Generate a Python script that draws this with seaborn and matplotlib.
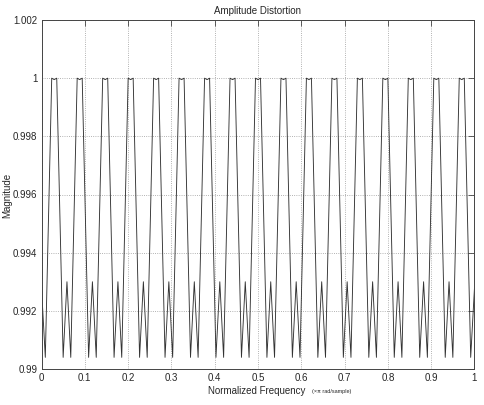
import numpy as np
import pandas as pd
import matplotlib
matplotlib.use("Agg")
import matplotlib.pyplot as plt
import seaborn as sns

# ---- datos (vertices de la curva) ----
# pequenos picos (~0.993) en k/17
small_peak_x = [0.0000, 0.0588, 0.1176, 0.1765, 0.2353, 0.2941, 0.3529, 0.4118, 0.4706,
                0.5294, 0.5882, 0.6471, 0.7059, 0.7647, 0.8235, 0.8824, 0.9412, 1.0000]
small_peak_y = [0.9928, 0.9930, 0.9930, 0.9930, 0.9930, 0.9930, 0.9930, 0.9930, 0.9930,
                0.9930, 0.9930, 0.9930, 0.9930, 0.9930, 0.9930, 0.9930, 0.9930, 0.9928]

# minimos (~0.9904)
dip_x = [0.0088, 0.0500, 0.0676, 0.1088, 0.1264, 0.1676, 0.1853, 0.2265, 0.2441, 0.2853,
         0.3029, 0.3441, 0.3617, 0.4029, 0.4206, 0.4618, 0.4794, 0.5206, 0.5382, 0.5794,
         0.5970, 0.6382, 0.6559, 0.6971, 0.7147, 0.7559, 0.7735, 0.8147, 0.8323, 0.8735,
         0.8912, 0.9324, 0.9500, 0.9912]
dip_y = [0.9904] * len(dip_x)

# esquinas de la parte plana superior (=1)
top_left_x = [0.0236, 0.0824, 0.1413, 0.2001, 0.2589, 0.3177, 0.3766, 0.4354, 0.4942,
              0.5530, 0.6118, 0.6707, 0.7295, 0.7883, 0.8471, 0.9060, 0.9648]
top_right_x = [0.0352, 0.0940, 0.1529, 0.2117, 0.2705, 0.3293, 0.3882, 0.4470, 0.5058,
               0.5646, 0.6234, 0.6823, 0.7411, 0.7999, 0.8587, 0.9176, 0.9764]
top_y = [1.0] * len(top_left_x)

# pequena muesca en el centro de cada pico
notch_x = [0.0294, 0.0882, 0.1471, 0.2059, 0.2647, 0.3235, 0.3824, 0.4412, 0.5000,
           0.5588, 0.6176, 0.6765, 0.7353, 0.7941, 0.8529, 0.9118, 0.9706]
notch_y = [0.99995] * len(notch_x)

xtick_vals = [0, 0.1, 0.2, 0.3, 0.4, 0.5, 0.6, 0.7, 0.8, 0.9, 1]
xtick_labels = ["0", "0.1", "0.2", "0.3", "0.4", "0.5", "0.6", "0.7", "0.8", "0.9", "1"]
ytick_vals = [0.990, 0.992, 0.994, 0.996, 0.998, 1.000, 1.002]
ytick_labels = ["0.99", "0.992", "0.994", "0.996", "0.998", "1", "1.002"]

df = pd.DataFrame({
    "x": small_peak_x + dip_x + top_left_x + top_right_x + notch_x,
    "y": small_peak_y + dip_y + top_y + top_y + notch_y,
}).sort_values("x")

# ---- estilo ----
sns.set_style("white")
plt.rcParams["font.family"] = ["Liberation Sans", "DejaVu Sans"]
plt.rcParams["xtick.direction"] = "in"
plt.rcParams["ytick.direction"] = "in"

fig = plt.figure(figsize=(4.84, 4.05), dpi=100)
ax = fig.add_axes([41.5 / 484, 36 / 405, 433 / 484, 349 / 405])

sns.lineplot(data=df, x="x", y="y", sort=False, estimator=None,
             color="#333333", linewidth=0.65, ax=ax)

ax.set_xlim(0, 1)
ax.set_ylim(0.99, 1.002)
ax.set_xticks(xtick_vals)
ax.set_xticklabels(xtick_labels, fontsize=7)
ax.set_yticks(ytick_vals)
ax.set_yticklabels(ytick_labels, fontsize=7)
ax.tick_params(axis="both", which="both", length=4, width=0.6, color="#444444",
               top=True, right=True, pad=3)
ax.grid(True, linestyle=":", color="#999999", linewidth=0.6)
for s in ax.spines.values():
    s.set_color("#444444")
    s.set_linewidth(0.7)

ax.set_xlabel("")
ax.set_ylabel("")
ax.set_title("Amplitude Distortion", fontsize=7, pad=4)

fig.text(7 / 484, 1 - 195 / 405, "Magnitude", fontsize=7, rotation=90,
         ha="center", va="center")
fig.text(207.7 / 484, 1 - 391 / 405, "Normalized Frequency", fontsize=7,
         ha="left", va="center")
fig.text(311.7 / 484, 1 - 391 / 405, "(\u00d7\u03c0 rad/sample)", fontsize=4,
         ha="left", va="center")

fig.savefig("out.png", dpi=100)
